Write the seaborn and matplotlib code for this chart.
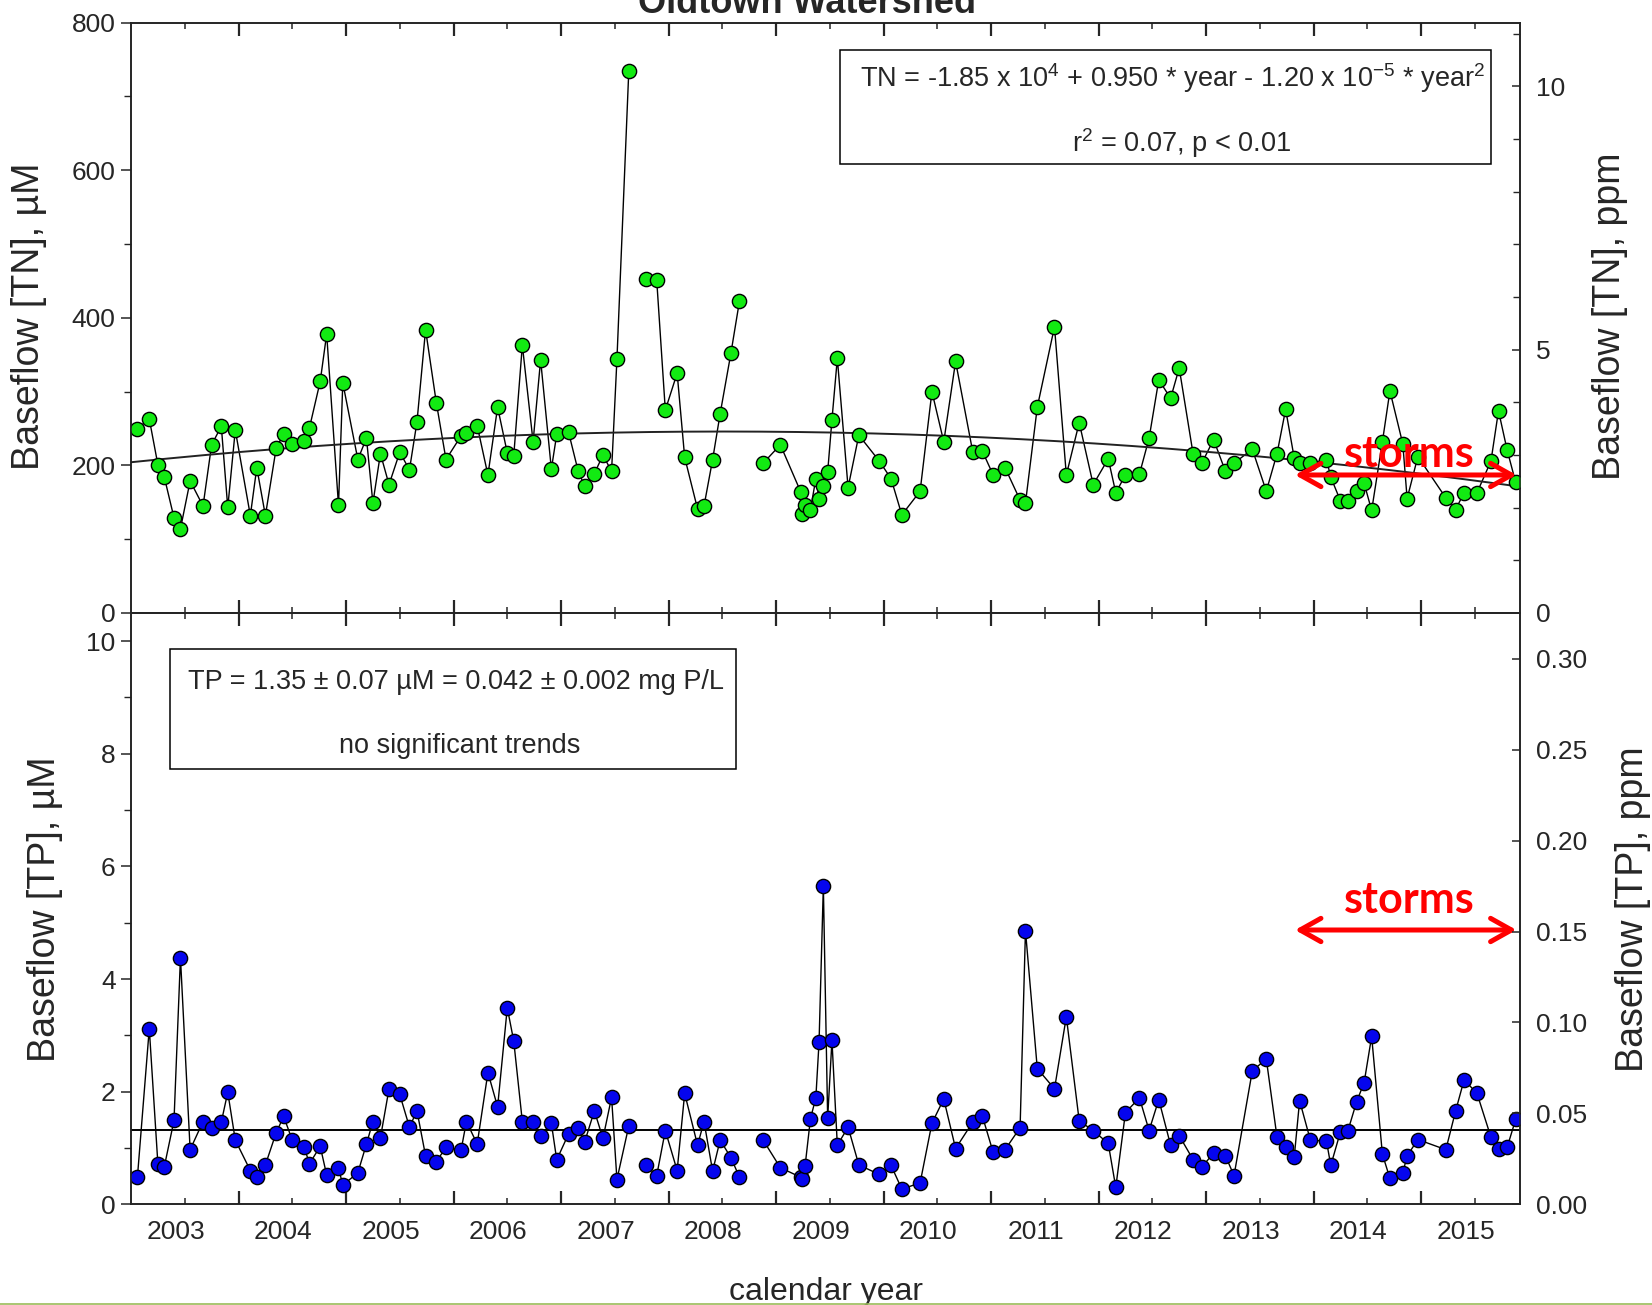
import numpy as np
import pandas as pd
import matplotlib
matplotlib.use("Agg")
import matplotlib.pyplot as plt
from matplotlib.ticker import MultipleLocator, FixedLocator, FixedFormatter, FormatStrFormatter, NullFormatter
from matplotlib.transforms import ScaledTranslation
from matplotlib.patches import Rectangle
from matplotlib.lines import Line2D
import seaborn as sns

# ---------------- Settings ----------------
sns.set_style("ticks")
plt.rcParams['font.family'] = ['Liberation Sans', 'DejaVu Sans']
plt.rcParams['mathtext.fontset'] = 'custom'
plt.rcParams['mathtext.rm'] = 'Liberation Sans'
plt.rcParams['mathtext.it'] = 'Liberation Sans:italic'

# ---------------- Data ----------------
sample_year = [
    2003.06, 2003.17, 2003.25, 2003.31, 2003.40, 2003.46, 2003.55, 2003.67, 2003.75, 2003.84, 2003.90, 2003.97,
    2004.11, 2004.17, 2004.25, 2004.35, 2004.42, 2004.50, 2004.61, 2004.66, 2004.76, 2004.82, 2004.93, 2004.97,
    2005.11, 2005.19, 2005.25, 2005.32, 2005.40, 2005.50, 2005.59, 2005.66, 2005.74, 2005.84, 2005.93,
    2006.07, 2006.12, 2006.22, 2006.32, 2006.41, 2006.50, 2006.56, 2006.64, 2006.74, 2006.81, 2006.91, 2006.96,
    2007.07, 2007.16, 2007.22, 2007.31, 2007.39, 2007.47, 2007.52, 2007.63, 2007.79, 2007.89, 2007.97,
    2008.08, 2008.15, 2008.27, 2008.33, 2008.41, 2008.48, 2008.58, 2008.66, 2008.88,
    2009.04, 2009.23, 2009.24, 2009.27, 2009.32, 2009.37, 2009.40, 2009.44, 2009.48, 2009.52, 2009.57, 2009.67,
    2009.77, 2009.96,
    2010.07, 2010.17, 2010.34, 2010.45, 2010.56, 2010.67, 2010.83, 2010.92,
    2011.02, 2011.13, 2011.27, 2011.32, 2011.43, 2011.59, 2011.70, 2011.82, 2011.95,
    2012.09, 2012.16, 2012.25, 2012.38, 2012.47, 2012.56, 2012.67, 2012.75, 2012.88, 2012.96,
    2013.07, 2013.18, 2013.26, 2013.43, 2013.56, 2013.66, 2013.74, 2013.82, 2013.87, 2013.97,
    2014.12, 2014.16, 2014.25, 2014.32, 2014.40, 2014.47, 2014.54, 2014.64, 2014.71, 2014.83, 2014.87, 2014.97,
    2015.23, 2015.32, 2015.40, 2015.52, 2015.65, 2015.72, 2015.80, 2015.88,
]

tn_um = [
    250, 263, 201, 184, 129, 114, 179, 145, 228, 253, 143, 248,
    132, 197, 132, 223, 243, 229, 233, 251, 314, 378, 146, 312,
    208, 237, 149, 216, 174, 218, 194, 259, 384, 285, 208,
    240, 244, 254, 187, 279, 217, 213, 363, 232, 343, 195, 242,
    245, 192, 172, 189, 214, 192, 344, 734, 452, 451, 275,
    325, 211, 141, 145, 208, 270, 352, 423, 203,
    228, 164, 134, 146, 140, 182, 155, 172, 191, 262, 345, 170,
    241, 206,
    182, 133, 165, 300, 232, 341, 218, 219,
    187, 197, 153, 149, 279, 388, 187, 258, 174,
    209, 163, 187, 188, 237, 316, 291, 332, 215, 203,
    235, 192, 203, 222, 165, 216, 276, 210, 203, 203,
    208, 184, 152, 152, 166, 176, 139, 232, 301, 229, 155, 212,
    156, 140, 163, 163, 206, 274, 221, 177,
]

tp_um = [
    0.49, 3.12, 0.72, 0.67, 1.49, 4.38, 0.97, 1.47, 1.36, 1.46, 1.99, 1.14,
    0.60, 0.48, 0.70, 1.27, 1.56, 1.14, 1.02, 0.72, 1.03, 0.52, 0.65, 0.34,
    0.56, 1.07, 1.47, 1.18, 2.05, 1.95, 1.37, 1.66, 0.86, 0.76, 1.01,
    0.96, 1.47, 1.07, 2.34, 1.73, 3.49, 2.90, 1.47, 1.47, 1.22, 1.44, 0.79,
    1.25, 1.36, 1.11, 1.66, 1.17, 1.90, 0.44, 1.39, 0.69, 0.51, 1.31,
    0.60, 1.97, 1.05, 1.47, 0.59, 1.14, 0.83, 0.48, 1.14,
    0.65, 0.48, 0.45, 0.68, 1.52, 1.89, 2.88, 5.65, 1.53, 2.91, 1.05, 1.37,
    0.70, 0.53,
    0.69, 0.27, 0.38, 1.44, 1.87, 0.99, 1.46, 1.56,
    0.92, 0.97, 1.36, 4.86, 2.41, 2.05, 3.33, 1.48, 1.31,
    1.08, 0.30, 1.63, 1.89, 1.31, 1.86, 1.05, 1.22, 0.79, 0.66,
    0.91, 0.86, 0.51, 2.37, 2.58, 1.19, 1.02, 0.84, 1.84, 1.14,
    1.12, 0.69, 1.29, 1.31, 1.82, 2.16, 2.98, 0.89, 0.46, 0.56, 0.86, 1.15,
    0.97, 1.65, 2.21, 1.97, 1.19, 0.98, 1.01, 1.51,
]

# the connecting line is broken before these sampling dates (missing months)
new_segment_at = [2007.79, 2008.88]
tp_mean_um = 1.32
year_labels = ['2003', '2004', '2005', '2006', '2007', '2008', '2009',
               '2010', '2011', '2012', '2013', '2014', '2015']

TN_PPM_PER_UM = 0.014007   # 14.007 g N / mol
TP_PPM_PER_UM = 0.030974   # 30.974 g P / mol

df = pd.DataFrame({'year': sample_year, 'tn': tn_um, 'tp': tp_um})
df['seg'] = np.searchsorted(new_segment_at, df['year'], side='right')

# ---------------- Figure ----------------
fig = plt.figure(figsize=(16.52, 13.05), dpi=100)
ax_tn = fig.add_axes([0.07930, 0.53027, 0.84080, 0.45234])
ax_tp = fig.add_axes([0.07930, 0.07716, 0.84080, 0.45311])

GREEN = '#12ea12'
BLUE = '#0505ee'
RED = '#ff0000'
TICK_FS = 19

for ax, col, colour in [(ax_tn, 'tn', GREEN), (ax_tp, 'tp', BLUE)]:
    sns.lineplot(data=df, x='year', y=col, units='seg', estimator=None, sort=False,
                 color='black', linewidth=1.0, ax=ax, legend=False, zorder=2)
    sns.scatterplot(data=df, x='year', y=col, color=colour, edgecolor='black',
                    linewidth=1.0, s=105, ax=ax, legend=False, zorder=3)
    ax.set_xlabel('')
    ax.set_ylabel('')

# quadratic trend of TN (regression on the data)
coef = np.polyfit(df['year'] - 2009, df['tn'], 2)
xs = np.linspace(2003.0, df['year'].max(), 300)
ax_tn.plot(xs, np.polyval(coef, xs - 2009), color='#222222', lw=1.4, zorder=2.5)

# TP mean line
ax_tp.axhline(tp_mean_um, color='black', lw=1.4, zorder=2.5)

# ---------------- Axes formatting ----------------
years = np.arange(2003, 2016)
for ax in (ax_tn, ax_tp):
    ax.set_xlim(2003.0, 2015.92)
    ax.xaxis.set_major_locator(FixedLocator(years[1:]))
    ax.xaxis.set_minor_locator(FixedLocator(years + 0.5))
    ax.xaxis.set_major_formatter(NullFormatter())
    ax.xaxis.set_minor_formatter(NullFormatter())
    ax.tick_params(axis='x', which='major', direction='in', length=9.5, width=1.6,
                   top=True, bottom=True, labelbottom=False)
    ax.tick_params(axis='x', which='minor', direction='in', length=4, width=1.1,
                   top=True, bottom=True)
    ax.tick_params(axis='y', which='major', direction='out', length=7, width=1.1,
                   labelsize=TICK_FS, pad=4, right=False)
    ax.tick_params(axis='y', which='minor', direction='out', length=5, width=1.0, right=False)
    for sp in ax.spines.values():
        sp.set_linewidth(1.1)
        sp.set_color('black')

ax_tn.set_ylim(0, 800)
ax_tn.yaxis.set_major_locator(MultipleLocator(200))
ax_tn.yaxis.set_minor_locator(MultipleLocator(100))

ax_tp.set_ylim(0, 10.5)
ax_tp.yaxis.set_major_locator(MultipleLocator(2))
ax_tp.yaxis.set_minor_locator(MultipleLocator(1))

# year labels sit at mid-year, slightly shifted left as in the original
ax_tp.xaxis.set_minor_formatter(FixedFormatter(year_labels))
ax_tp.tick_params(axis='x', which='minor', labelbottom=True, labelsize=TICK_FS, pad=11)
shift = ScaledTranslation(-9 / 100, 0, fig.dpi_scale_trans)
for lab in ax_tp.xaxis.get_minorticklabels():
    lab.set_transform(lab.get_transform() + shift)

# right-hand ppm axes
ax_tn_r = ax_tn.twinx()
ax_tn_r.set_ylim(0, 800 * TN_PPM_PER_UM)
ax_tn_r.yaxis.set_major_locator(MultipleLocator(5))
ax_tn_r.yaxis.set_minor_locator(MultipleLocator(1))

ax_tp_r = ax_tp.twinx()
ax_tp_r.set_ylim(0, 10.5 * TP_PPM_PER_UM)
ax_tp_r.yaxis.set_major_locator(MultipleLocator(0.05))
ax_tp_r.yaxis.set_major_formatter(FormatStrFormatter('%.2f'))

for axr in (ax_tn_r, ax_tp_r):
    axr.tick_params(axis='y', which='major', direction='in', length=6, width=1.1,
                    labelsize=TICK_FS, pad=11.5)
    axr.tick_params(axis='y', which='minor', direction='in', length=5, width=1.0)
    for sp in axr.spines.values():
        sp.set_linewidth(1.1)

# ---------------- Axis titles ----------------
LABEL_FS = 27
ax_tn.set_ylabel('Baseflow [TN], µM', fontsize=LABEL_FS, va='center')
ax_tn.yaxis.set_label_coords(-0.0731, 0.5031)
ax_tp.set_ylabel('Baseflow [TP], µM', fontsize=LABEL_FS, va='center')
ax_tp.yaxis.set_label_coords(-0.0619, 0.4994)
ax_tn_r.set_ylabel('Baseflow [TN], ppm', fontsize=LABEL_FS, va='center', rotation=90)
ax_tn_r.yaxis.set_label_coords(1.0648, 0.5031)
ax_tp_r.set_ylabel('Baseflow [TP], ppm', fontsize=LABEL_FS, va='center', rotation=90)
ax_tp_r.yaxis.set_label_coords(1.0814, 0.4994)

ax_tp.set_xlabel('calendar year', fontsize=23, va='baseline')
ax_tp.xaxis.set_label_coords(0.5004, -0.161)

# title runs off the top edge in the original slide
fig.text(807 / 1652, 1 - 13 / 1305, 'Oldtown Watershed', ha='center', va='baseline',
         fontsize=26, fontweight='bold')

# ---------------- Annotation boxes ----------------
BOX_FS = 19.5
ax_tn.add_patch(Rectangle((0.5106, 0.7601), 0.9791 - 0.5106, 0.9538 - 0.7601,
                          transform=ax_tn.transAxes, fill=False, ec='black', lw=1.1, zorder=4))
ax_tn.text(0.5248, 0.9063,
           r'TN = -1.85 x $\mathregular{10^{4}}$ + 0.950 * year - 1.20 x $\mathregular{10^{-5}}$ * $\mathregular{year^{2}}$',
           transform=ax_tn.transAxes, ha='left', va='center', fontsize=BOX_FS, zorder=5)
ax_tn.text(0.756, 0.7962, r'$\mathregular{r^{2}}$ = 0.07, p < 0.01',
           transform=ax_tn.transAxes, ha='center', va='center', fontsize=BOX_FS, zorder=5)

ax_tp.add_patch(Rectangle((0.0284, 0.7357), 0.4354 - 0.0284, 0.9386 - 0.7357,
                          transform=ax_tp.transAxes, fill=False, ec='black', lw=1.1, zorder=4))
ax_tp.text(0.234, 0.8825, 'TP = 1.35 ± 0.07 µM = 0.042 ± 0.002 mg P/L',
           transform=ax_tp.transAxes, ha='center', va='center', fontsize=BOX_FS, zorder=5)
ax_tp.text(0.2369, 0.7759, 'no significant trends',
           transform=ax_tp.transAxes, ha='center', va='center', fontsize=BOX_FS, zorder=5)

# ---------------- "storms" markers ----------------
for ax, y_txt, y_arr in [(ax_tn, 0.2478, 0.2338), (ax_tp, 0.4921, 0.4639)]:
    ax.text(0.9200, y_txt, 'storms', transform=ax.transAxes, ha='center', va='baseline',
            fontsize=31, fontweight='bold', family=['Lato', 'DejaVu Sans'], color=RED, zorder=6)
    ax.annotate('', xy=(0.9975, y_arr), xytext=(0.838, y_arr), xycoords='axes fraction',
                arrowprops=dict(arrowstyle='<->,head_length=0.75,head_width=0.42', color=RED,
                                lw=3.6, shrinkA=0, shrinkB=0, mutation_scale=20), zorder=6)

# thin slide border at the very bottom
fig.add_artist(Line2D([0, 1], [1 - 1304 / 1305] * 2, transform=fig.transFigure,
                      color='#9bbb59', lw=1.2))

fig.savefig('out.png', dpi=100)
